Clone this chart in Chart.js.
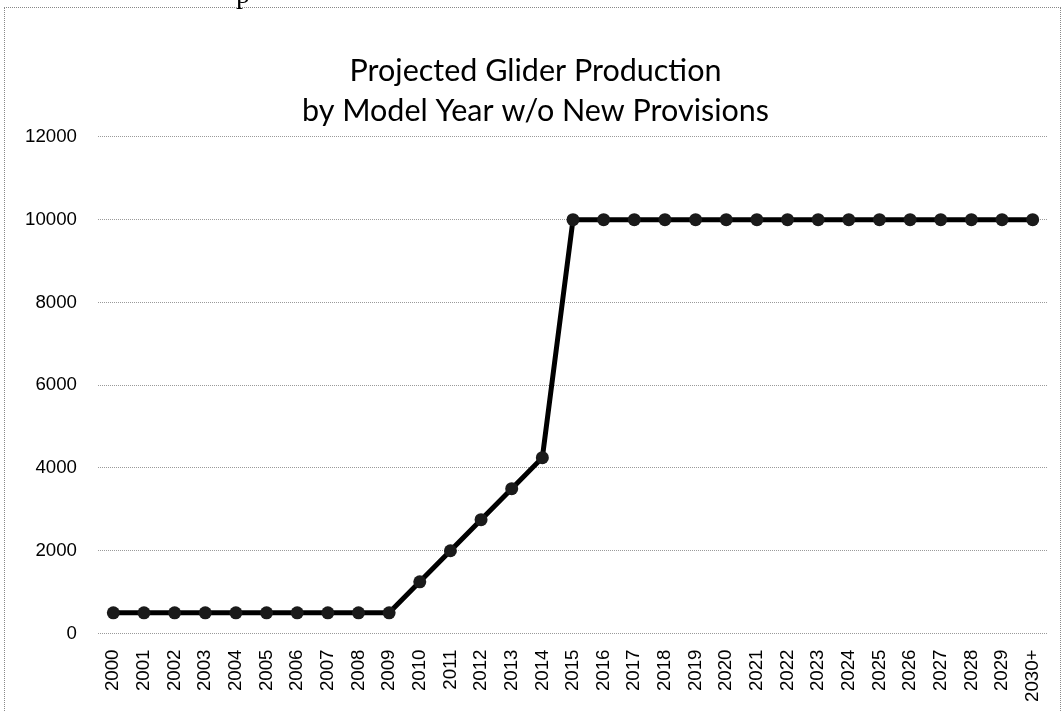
<!DOCTYPE html>
<html>
<head>
<meta charset="utf-8">
<script src="https://cdn.jsdelivr.net/npm/chart.js@4/dist/chart.umd.min.js"></script>
<style>
  html, body { margin: 0; padding: 0; background: #fff; }
  #wrap { position: relative; width: 1064px; height: 712px; overflow: hidden; }
  #frame { position: absolute; left: 4px; top: 7px; width: 1057px; height: 710px; border: 1px dotted #888; box-sizing: border-box; pointer-events: none; }
  #frag { position: absolute; left: 236px; top: -22px; font-family: "Liberation Serif", serif; font-size: 28px; color: #000; }
  canvas { position: absolute; left: 0; top: 0; }
</style>
</head>
<body>
<div id="wrap">
  <canvas id="c" width="1064" height="712"></canvas>
  <div id="frame"></div>
  <div id="frag">p</div>
</div>
<script>
const categories = ["2000","2001","2002","2003","2004","2005","2006","2007","2008","2009","2010","2011","2012","2013","2014","2015","2016","2017","2018","2019","2020","2021","2022","2023","2024","2025","2026","2027","2028","2029","2030+"];
const production = [500,500,500,500,500,500,500,500,500,500,1250,2000,2750,3500,4250,10000,10000,10000,10000,10000,10000,10000,10000,10000,10000,10000,10000,10000,10000,10000,10000];
const titleLines = ["Projected Glider Production", "by Model Year w/o New Provisions"];
const yTicks = [0, 2000, 4000, 6000, 8000, 10000, 12000];

new Chart(document.getElementById('c'), {
  type: 'line',
  data: {
    labels: categories,
    datasets: [{
      data: production,
      borderColor: '#000',
      borderWidth: 5,
      pointRadius: 6.5,
      pointBackgroundColor: '#1a1a1a',
      pointBorderColor: '#1a1a1a',
      pointBorderWidth: 0,
      tension: 0
    }]
  },
  options: {
    responsive: false,
    animation: false,
    devicePixelRatio: 1,
    layout: { padding: { left: 23, right: 16, top: 51, bottom: 2 } },
    plugins: {
      legend: { display: false },
      tooltip: { enabled: false },
      title: {
        display: true,
        text: titleLines,
        color: '#000',
        font: { family: 'Lato', size: 30.5, weight: 'normal', lineHeight: 1.31 },
        padding: { top: 0, bottom: 6 }
      }
    },
    scales: {
      x: {
        offset: true,
        grid: { display: false },
        border: { display: false },
        ticks: {
          color: '#000',
          font: { family: 'Liberation Sans', size: 18.7 },
          minRotation: 90,
          maxRotation: 90,
          autoSkip: false,
          padding: 8
        }
      },
      y: {
        min: 0,
        max: 12000,
        afterBuildTicks: (axis) => { axis.ticks = yTicks.map(v => ({ value: v })); },
        afterFit: (axis) => { axis.width = 75; },
        grid: {
          color: '#9a9a9a',
          lineWidth: 1,
          drawTicks: false
        },
        border: { display: false, dash: [1, 1] },
        ticks: {
          color: '#000',
          font: { family: 'Liberation Sans', size: 18.7 },
          padding: 21,
          callback: (v) => String(v)
        }
      }
    }
  }
});
</script>
</body>
</html>
